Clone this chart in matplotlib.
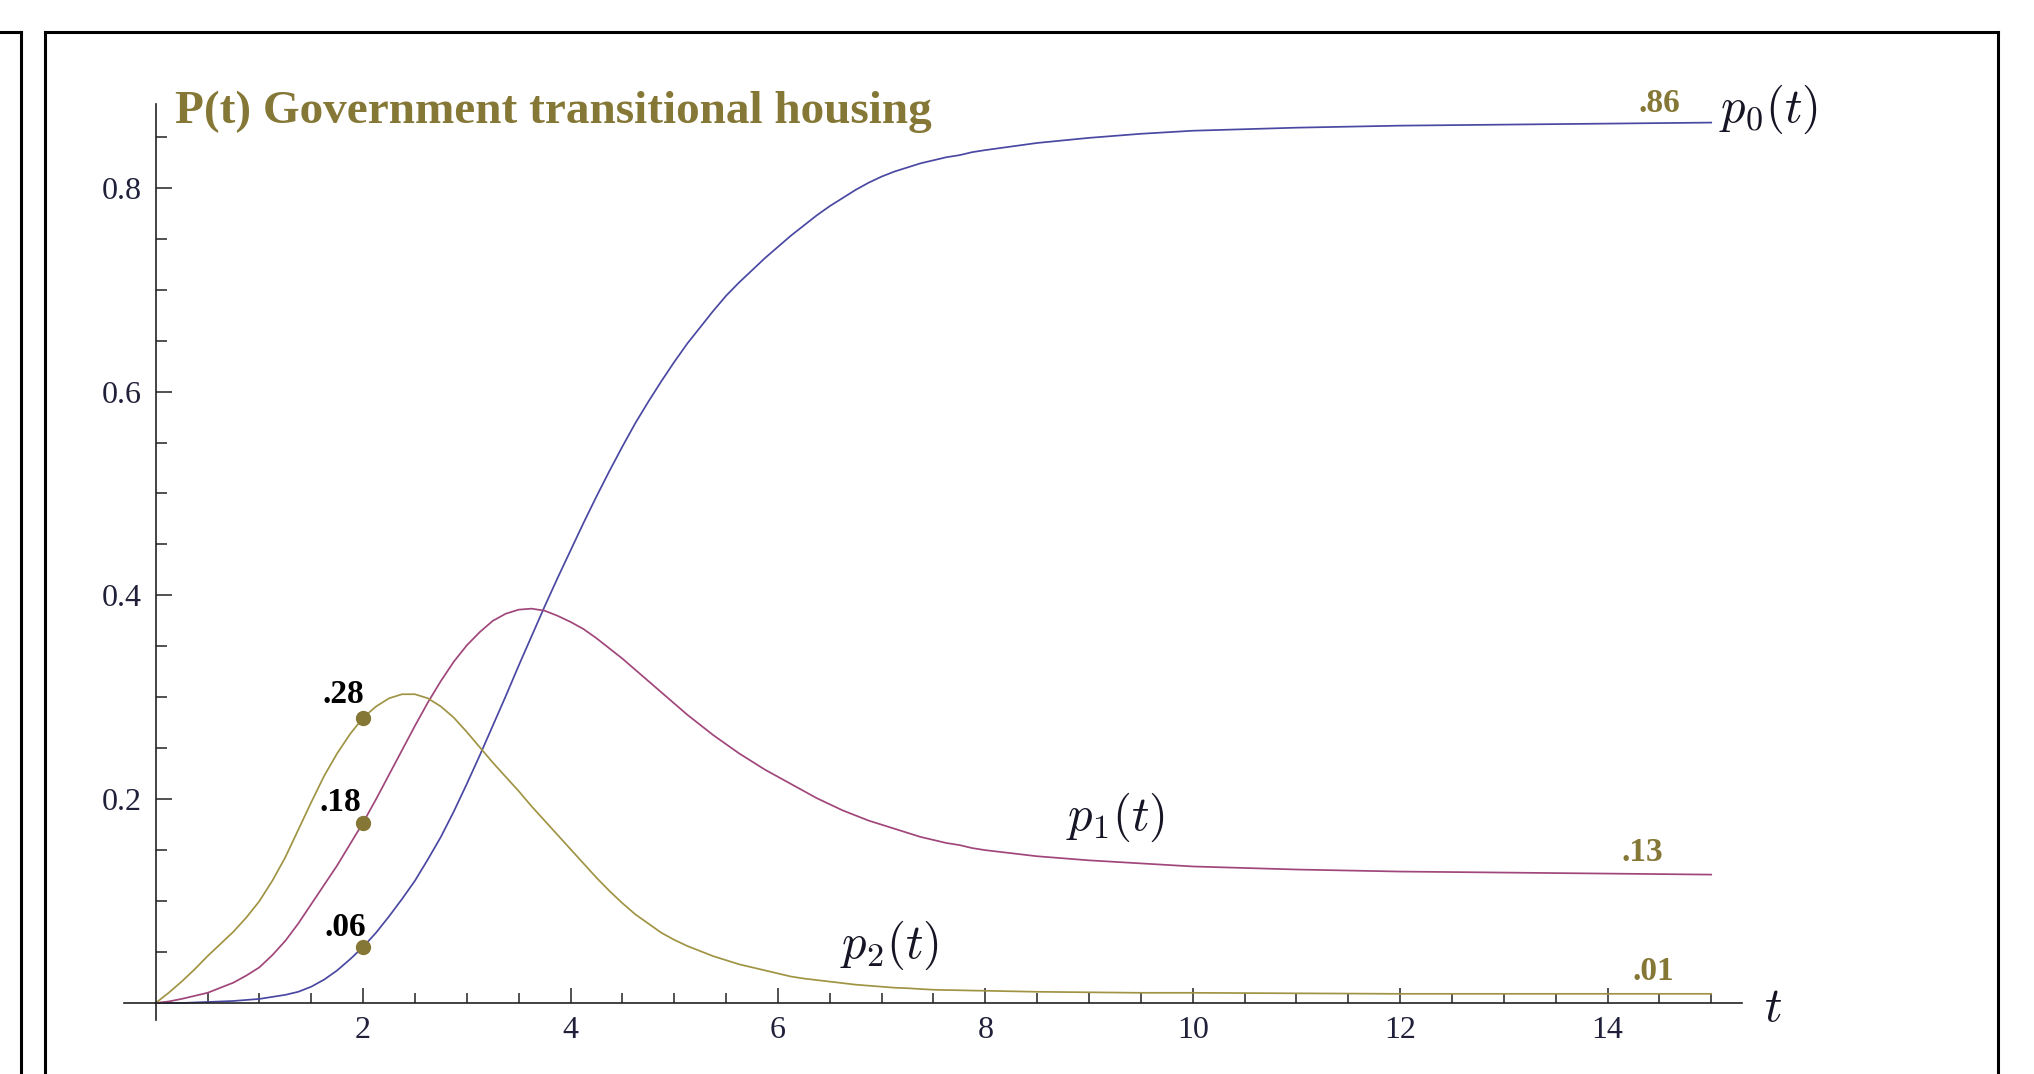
import matplotlib
matplotlib.use("Agg")
import matplotlib.pyplot as plt
from matplotlib.lines import Line2D
import numpy as np

# values
t = [0, 0.125, 0.25, 0.375, 0.5, 0.625, 0.75, 0.875, 1.0, 1.125, 1.25, 1.375,
     1.5, 1.625, 1.75, 1.875, 2.0, 2.125, 2.25, 2.375, 2.5, 2.625, 2.75, 2.875,
     3.0, 3.125, 3.25, 3.375, 3.5, 3.625, 3.75, 3.875, 4.0, 4.125, 4.25, 4.375,
     4.5, 4.625, 4.75, 4.875, 5.0, 5.125, 5.25, 5.375, 5.5, 5.625, 5.75, 5.875,
     6.0, 6.125, 6.25, 6.375, 6.5, 6.625, 6.75, 6.875, 7.0, 7.125, 7.25, 7.375,
     7.5, 7.625, 7.75, 7.875, 8.0, 8.5, 9.0, 9.5, 10, 11, 12, 13, 14, 15]
p0 = [0, 0, 0, 0.0005, 0.001, 0.0015, 0.002, 0.003, 0.004, 0.006, 0.008, 0.011,
      0.016, 0.023, 0.032, 0.043, 0.055, 0.069, 0.085, 0.102, 0.120, 0.141, 0.163, 0.188,
      0.215, 0.243, 0.272, 0.301, 0.331, 0.360, 0.389, 0.417, 0.444, 0.471, 0.497, 0.522,
      0.546, 0.569, 0.590, 0.610, 0.629, 0.647, 0.663, 0.679, 0.694, 0.707, 0.719, 0.731,
      0.742, 0.753, 0.763, 0.773, 0.782, 0.790, 0.798, 0.805, 0.811, 0.816, 0.820, 0.824,
      0.827, 0.830, 0.832, 0.835, 0.837, 0.844, 0.849, 0.853, 0.856, 0.859, 0.861, 0.862,
      0.863, 0.864]
p1 = [0, 0.0015, 0.004, 0.007, 0.010, 0.015, 0.020, 0.027, 0.035, 0.047, 0.061, 0.078,
      0.097, 0.116, 0.135, 0.156, 0.177, 0.200, 0.224, 0.248, 0.272, 0.295, 0.316, 0.335,
      0.351, 0.364, 0.375, 0.382, 0.386, 0.387, 0.385, 0.380, 0.374, 0.367, 0.358, 0.348,
      0.338, 0.327, 0.316, 0.305, 0.294, 0.283, 0.273, 0.263, 0.254, 0.245, 0.237, 0.229,
      0.222, 0.215, 0.208, 0.201, 0.195, 0.189, 0.184, 0.179, 0.175, 0.171, 0.167, 0.163,
      0.160, 0.157, 0.155, 0.152, 0.150, 0.144, 0.140, 0.137, 0.134, 0.131, 0.129, 0.128,
      0.127, 0.126]
p2 = [0, 0.010, 0.021, 0.033, 0.046, 0.058, 0.070, 0.084, 0.100, 0.120, 0.143, 0.170,
      0.197, 0.223, 0.245, 0.264, 0.280, 0.291, 0.299, 0.303, 0.303, 0.299, 0.291, 0.280,
      0.266, 0.251, 0.236, 0.222, 0.208, 0.193, 0.179, 0.165, 0.151, 0.137, 0.123, 0.110,
      0.098, 0.087, 0.078, 0.069, 0.062, 0.056, 0.051, 0.046, 0.042, 0.038, 0.035, 0.032,
      0.029, 0.026, 0.024, 0.0225, 0.021, 0.0195, 0.018, 0.017, 0.016, 0.015, 0.0145, 0.0137,
      0.013, 0.0127, 0.0125, 0.0122, 0.012, 0.011, 0.0105, 0.010, 0.010, 0.0095, 0.009, 0.009,
      0.009, 0.009]

t_mark = 2.0
end_labels = [".86", ".13", ".01"]
mark_labels = [".28", ".18", ".06"]
title = "P(t) Government transitional housing"

blue = "#4a48a2"
magenta = "#a0467a"
olive = "#a09444"
dark_olive = "#857735"
tick_col = "#20203a"

plt.rcParams["mathtext.fontset"] = "cm"
plt.rcParams["font.family"] = "Liberation Serif"

W, H = 2034, 1074
fig = plt.figure(figsize=(W / 100, H / 100), dpi=100)

# axes placed so that t=0 -> x 155.7px, 1 unit = 103.7px; p=0 -> y 1003px, 1 unit = 1019px
xmin, xmax = -0.5, 16.5
ymin, ymax = -0.05, 0.92
left = (155.7 + 103.7 * xmin) / W
width = 103.7 * (xmax - xmin) / W
bottom = (H - (1003 - 1019 * ymin)) / H
height = 1019 * (ymax - ymin) / H
ax = fig.add_axes([left, bottom, width, height])
ax.set_xlim(xmin, xmax)
ax.set_ylim(ymin, ymax)
ax.patch.set_alpha(0)

ax.plot(t, p0, color=blue, lw=1.25)
ax.plot(t, p1, color=magenta, lw=1.25)
ax.plot(t, p2, color=olive, lw=1.25)

i2 = t.index(t_mark)
ax.plot([t_mark] * 3, [p2[i2], p1[i2], p0[i2]], "o", color=dark_olive, ms=10, zorder=5)

# axes lines through the origin
for s in ["top", "right"]:
    ax.spines[s].set_visible(False)
ax.spines["left"].set_position(("data", 0))
ax.spines["bottom"].set_position(("data", 0))
ax.spines["left"].set_bounds(-0.017, 0.882)
ax.spines["bottom"].set_bounds(-0.31, 15.3)
for s in ["left", "bottom"]:
    ax.spines[s].set_linewidth(1.2)
    ax.spines[s].set_color("#222222")

ax.set_xticks(np.arange(2, 15, 2))
ax.set_xticks(np.arange(0.5, 15.01, 0.5), minor=True)
ax.set_yticks([0.2, 0.4, 0.6, 0.8])
ax.set_yticks(np.arange(0.05, 0.86, 0.05), minor=True)
ax.set_xticklabels([str(v) for v in range(2, 15, 2)])
ax.set_yticklabels(["0.2", "0.4", "0.6", "0.8"])
ax.tick_params(which="both", direction="in", color="#222222", width=1.1,
               labelsize=23, labelcolor=tick_col)
ax.tick_params(axis="x", which="major", length=11, pad=9)
ax.tick_params(axis="x", which="minor", length=7)
ax.tick_params(axis="y", which="major", length=11.5, pad=10)
ax.tick_params(axis="y", which="minor", length=8)

ax.text(0.19, 0.864, title, color=dark_olive, fontsize=34, fontweight="bold",
        ha="left", va="baseline")

bold = dict(fontsize=24, fontweight="bold", ha="center", va="baseline")
ax.text(14.5, 0.874, end_labels[0], color=dark_olive, **bold)
ax.text(14.34, 0.139, end_labels[1], color=dark_olive, **bold)
ax.text(14.44, 0.0226, end_labels[2], color=dark_olive, **bold)
ax.text(1.81, 0.294, mark_labels[0], color="black", **bold)
ax.text(1.78, 0.188, mark_labels[1], color="black", **bold)
ax.text(1.83, 0.066, mark_labels[2], color="black", **bold)

ax.text(15.08, 0.877, r"$p_0(t)$", fontsize=35, ha="left", va="center", color="#151525")
ax.text(8.78, 0.182, r"$p_1(t)$", fontsize=35, ha="left", va="center", color="#151525")
ax.text(6.6, 0.057, r"$p_2(t)$", fontsize=35, ha="left", va="center", color="#151525")
ax.text(15.6, -0.006, r"$t$", fontsize=35, ha="center", va="center", color="#151525")


def px_line(x0, y0, x1, y1):
    fig.add_artist(Line2D([x0 / W, x1 / W], [1 - y0 / H, 1 - y1 / H],
                          transform=fig.transFigure, color="black", lw=2.2))


# panel frames
px_line(45, 32, 1998, 32)
px_line(45, 32, 45, H)
px_line(1998, 32, 1998, H)
px_line(0, 32, 21, 32)
px_line(21, 32, 21, H)

fig.savefig("out.png", dpi=100)
